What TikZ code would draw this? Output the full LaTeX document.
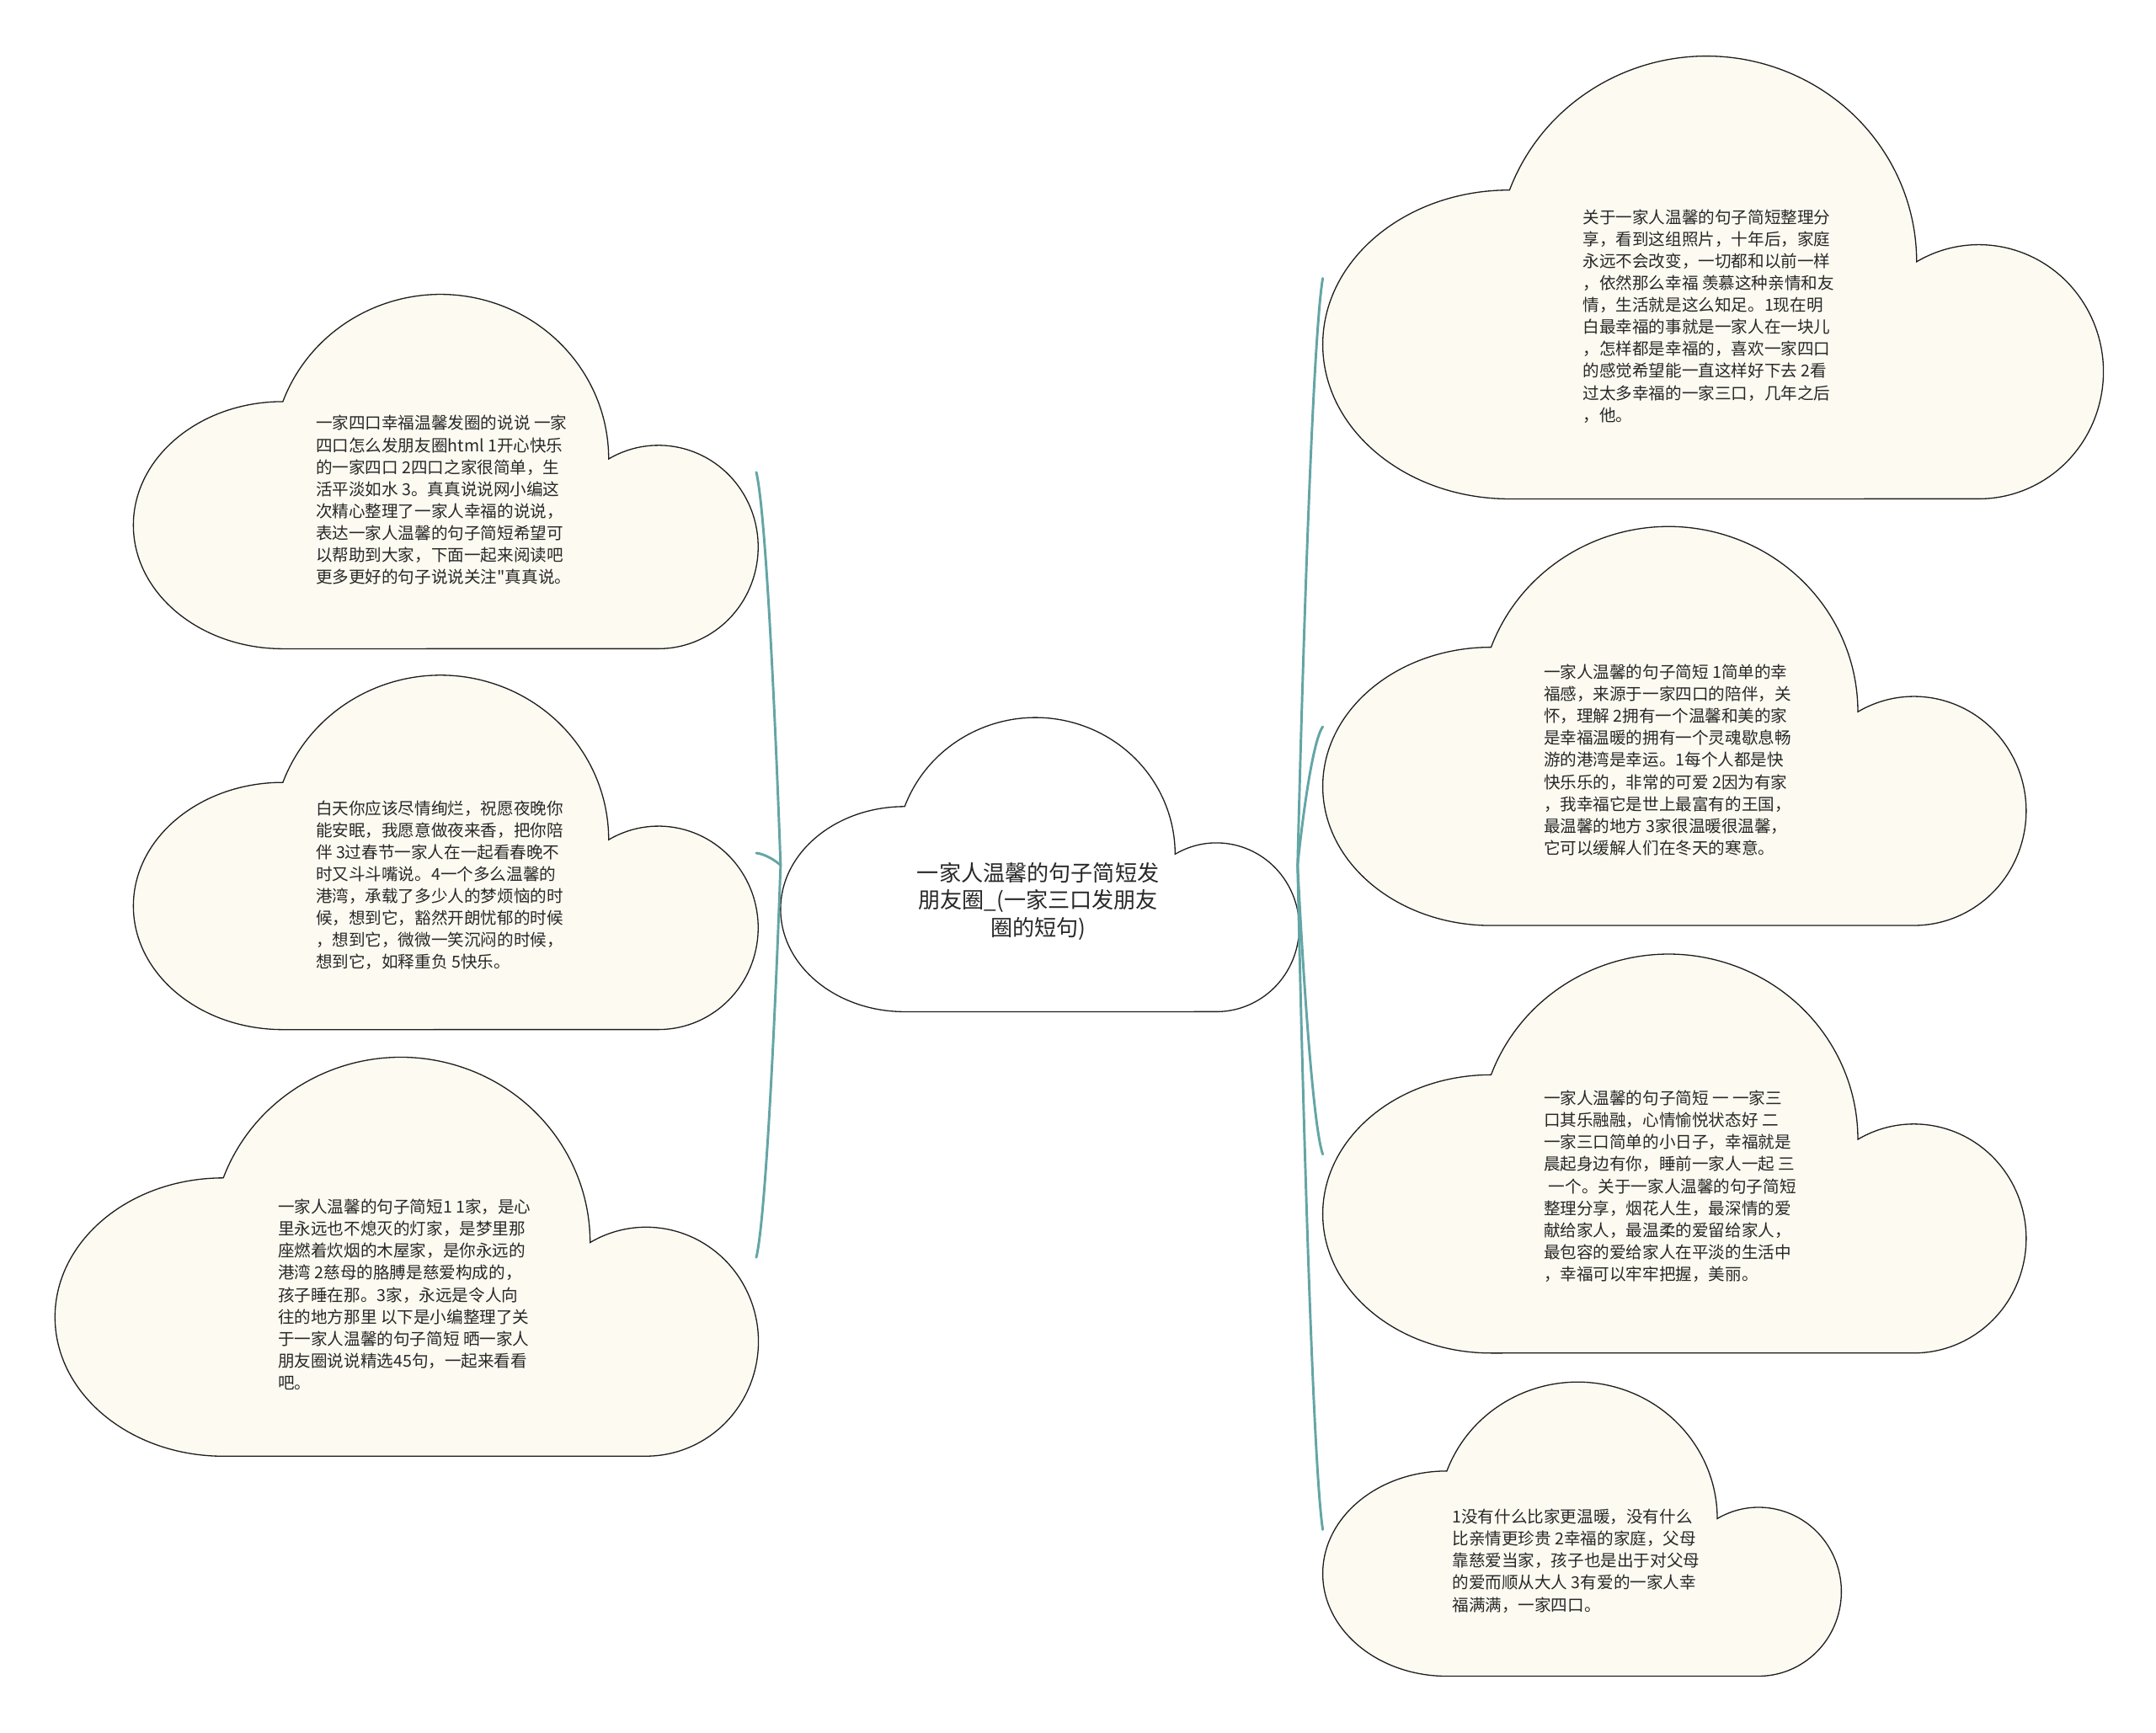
\documentclass[tikz,border=0pt]{standalone}
\usepackage{fontspec}
\newfontfamily\cjk{Noto Sans CJK SC}
\usetikzlibrary{calc}
\definecolor{cloudfill}{RGB}{252,250,241}
\definecolor{linecol}{RGB}{100,165,165}
\definecolor{txt}{RGB}{40,40,40}
\definecolor{edgecol}{RGB}{30,30,30}
\tikzset{
  cloudline/.style={draw=edgecol, line width=0.8pt, fill=cloudfill},
  rootcloud/.style={draw=edgecol, line width=0.8pt, fill=white},
  smalltext/.style={font=\cjk\fontsize{12}{16}\selectfont, text=txt, align=left, anchor=north west, inner sep=0pt},
  bigtext/.style={font=\cjk\fontsize{16}{20}\selectfont, text=txt, align=center, anchor=north, inner sep=0pt},
  conn/.style={draw=linecol, line width=1.8pt, line cap=round},
}
% #1 style, #2 x0, #3 bottom y, #4 width, #5 name
\newcommand{\mycloud}[5]{%
  \path[#1] ({#2+0.24*#4}, #3)
    arc[start angle=270, end angle=90, x radius={0.24*#4}, y radius={0.35*0.567*#4}]
    arc[start angle=159.6, end angle=0, x radius={0.27*#4}, y radius={0.466*0.567*#4}]
    arc[start angle=120, end angle=-90, x radius={0.16*#4}, y radius={0.288*0.567*#4}]
    -- cycle;
  \coordinate (#5L) at (#2, {#3+0.2835*#4});
  \coordinate (#5R) at ({#2+#4}, {#3+0.2835*#4});
}
\newcommand{\myconn}[2]{%
  \draw[conn] let \p1=(#1), \p2=(#2) in
    (\p1) .. controls ({\x1+0.2*(\x2-\x1)},{\y1+0.35*(\y2-\y1)})
             and ({\x1+0.6*(\x2-\x1)},{\y1+0.9*(\y2-\y1)}) .. (\p2);
}
\begin{document}
\begin{tikzpicture}[x=1pt,y=1pt]
\useasboundingbox (0,0) rectangle (1568,1260);
\fill[white] (0,0) rectangle (1568,1260);

% clouds
\mycloud{cloudline}{97}{788.1}{453}{la}
\mycloud{cloudline}{97}{511.1}{453}{lb}
\mycloud{cloudline}{40}{200.8}{510}{lc}
\mycloud{rootcloud}{567.7}{524.1}{376}{c}
\mycloud{cloudline}{962}{897.1}{566}{ra}
\mycloud{cloudline}{962}{586.8}{510}{rb}
\mycloud{cloudline}{962}{275.8}{510}{rc}
\mycloud{cloudline}{962}{40.8}{376}{rd}

% connectors
\myconn{cL}{laR}
\myconn{cL}{lbR}
\myconn{cL}{lcR}
\myconn{cR}{raL}
\myconn{cR}{rbL}
\myconn{cR}{rcL}
\myconn{cR}{rdL}

% texts
\node[bigtext] (root) at (755,633) {一家人温馨的句子简短发\\朋友圈\_(一家三口发朋友\\圈的短句)};

\node[smalltext] (t1) at (229.5,958) {一家四口幸福温馨发圈的说说 一家\\四口怎么发朋友圈html 1开心快乐\\的一家四口 2四口之家很简单，生\\活平淡如水 3。真真说说网小编这\\次精心整理了一家人幸福的说说，\\表达一家人温馨的句子简短希望可\\以帮助到大家，下面一起来阅读吧\\更多更好的句子说说关注"真真说。};

\node[smalltext] (t2) at (229.5,678) {白天你应该尽情绚烂，祝愿夜晚你\\能安眠，我愿意做夜来香，把你陪\\伴 3过春节一家人在一起看春晚不\\时又斗斗嘴说。4一个多么温馨的\\港湾，承载了多少人的梦烦恼的时\\候，想到它，豁然开朗忧郁的时候\\，想到它，微微一笑沉闷的时候，\\想到它，如释重负 5快乐。};

\node[smalltext] (t3) at (202,388) {一家人温馨的句子简短1 1家，是心\\里永远也不熄灭的灯家，是梦里那\\座燃着炊烟的木屋家，是你永远的\\港湾 2慈母的胳膊是慈爱构成的，\\孩子睡在那。3家，永远是令人向\\往的地方那里 以下是小编整理了关\\于一家人温馨的句子简短 晒一家人\\朋友圈说说精选45句，一起来看看\\吧。};

\node[smalltext] (t4) at (1151,1108) {关于一家人温馨的句子简短整理分\\享，看到这组照片，十年后，家庭\\永远不会改变，一切都和以前一样\\，依然那么幸福 羡慕这种亲情和友\\情，生活就是这么知足。1现在明\\白最幸福的事就是一家人在一块儿\\，怎样都是幸福的，喜欢一家四口\\的感觉希望能一直这样好下去 2看\\过太多幸福的一家三口，几年之后\\，他。};

\node[smalltext] (t5) at (1122.5,777) {一家人温馨的句子简短 1简单的幸\\福感，来源于一家四口的陪伴，关\\怀，理解 2拥有一个温馨和美的家\\是幸福温暖的拥有一个灵魂歇息畅\\游的港湾是幸运。1每个人都是快\\快乐乐的，非常的可爱 2因为有家\\，我幸福它是世上最富有的王国，\\最温馨的地方 3家很温暖很温馨，\\它可以缓解人们在冬天的寒意。};

\node[smalltext] (t6) at (1122.5,467) {一家人温馨的句子简短 一 一家三\\口其乐融融，心情愉悦状态好 二\\一家三口简单的小日子，幸福就是\\晨起身边有你，睡前一家人一起 三\\\hspace*{0.3em}一个。关于一家人温馨的句子简短\\整理分享，烟花人生，最深情的爱\\献给家人，最温柔的爱留给家人，\\最包容的爱给家人在平淡的生活中\\，幸福可以牢牢把握，美丽。};

\node[smalltext] (t7) at (1056,162.6) {1没有什么比家更温暖，没有什么\\比亲情更珍贵 2幸福的家庭，父母\\靠慈爱当家，孩子也是出于对父母\\的爱而顺从大人 3有爱的一家人幸\\福满满，一家四口。};
\end{tikzpicture}
\end{document}
